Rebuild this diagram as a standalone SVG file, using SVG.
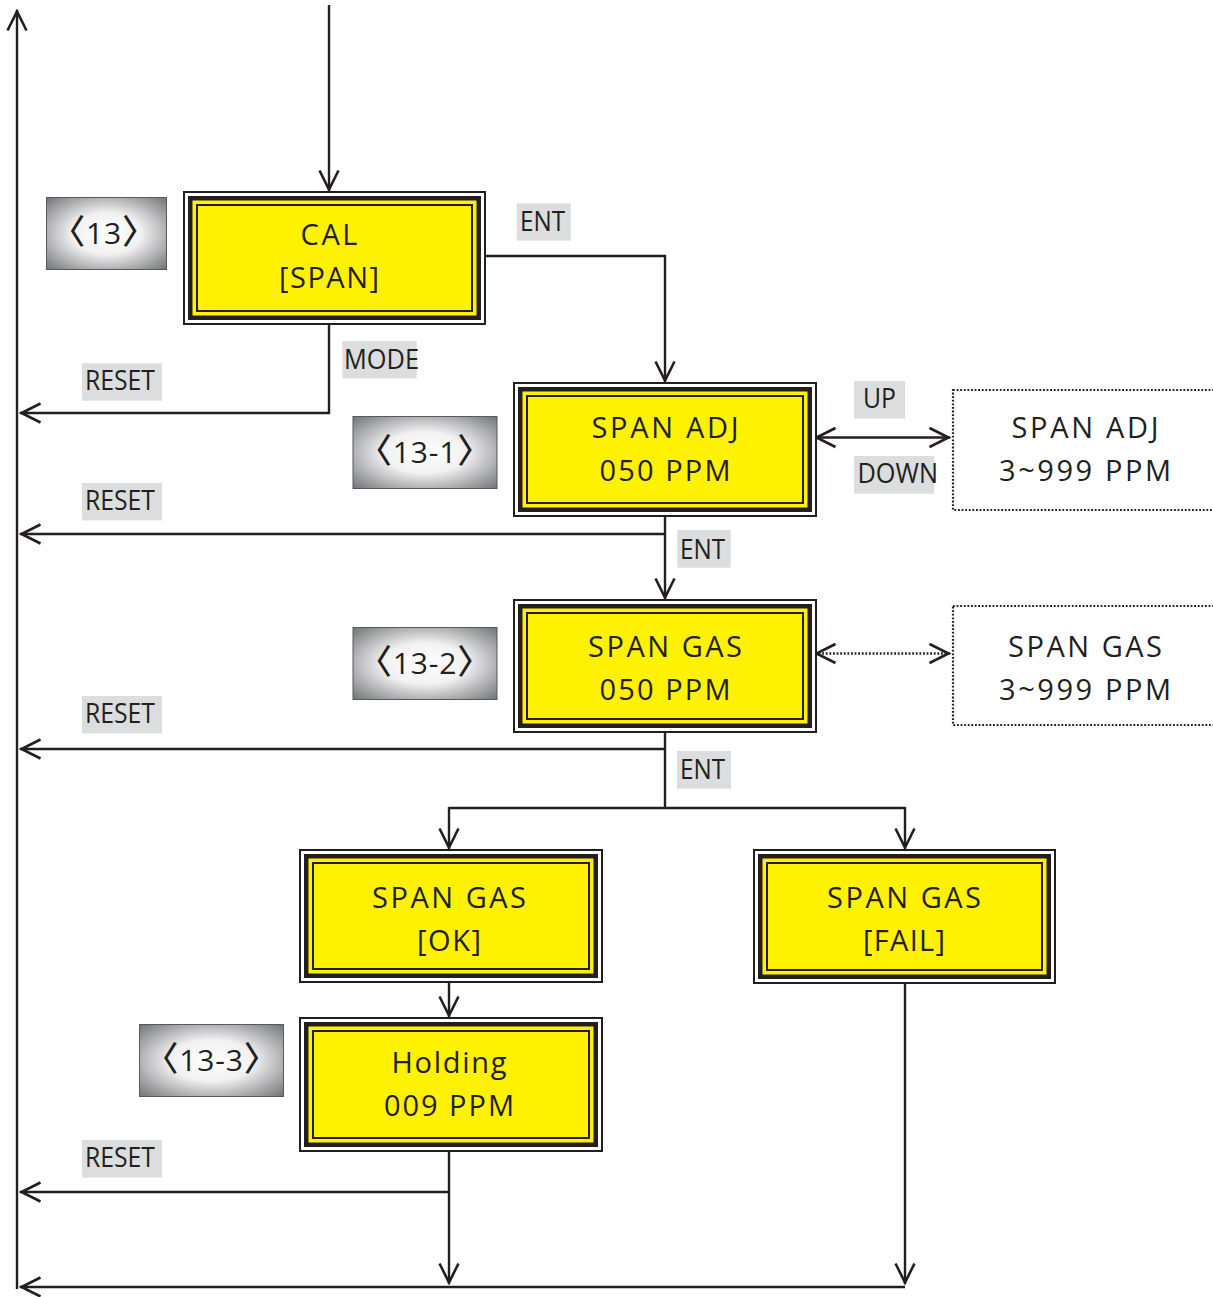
<svg xmlns="http://www.w3.org/2000/svg" width="1213" height="1297" viewBox="0 0 1213 1297">
<style>
.f0{fill:#fff;stroke:#231f20;stroke-width:2}
.f1{fill:#231f20}
.f2{fill:#fff200}
.f3{fill:none;stroke:#231f20;stroke-width:2}
.nt{font-family:"Open Sans","Noto Sans",sans-serif;font-size:29px;font-weight:500;fill:#231f20;text-anchor:middle}
.bt{font-family:"Open Sans","Noto Sans CJK KR",sans-serif;font-size:30px;font-weight:500;fill:#231f20;text-anchor:middle;letter-spacing:0.8px}
.br{font-family:"Noto Sans CJK KR",sans-serif;font-size:34px;font-weight:500}
.lb{fill:#dcdddf}
.lt{font-family:"Open Sans","Noto Sans",sans-serif;font-size:27px;font-weight:500;fill:#231f20}
.bd{fill:url(#bg);stroke:#58595b;stroke-width:1}
.dot{fill:#fff;stroke:#231f20;stroke-width:2.2;stroke-dasharray:1.8 1.8}
.ln{fill:none;stroke:#231f20;stroke-width:2.4}
.ar{marker-end:url(#ah)}
.ar2{marker-start:url(#ah);marker-end:url(#ah)}
.dl{stroke-dasharray:1.8 1.8}
</style>
<defs>
<radialGradient id="bg" cx="0.5" cy="0.5" r="0.72">
<stop offset="0" stop-color="#ffffff"/>
<stop offset="0.4" stop-color="#f1f1f2"/>
<stop offset="1" stop-color="#6d6e71"/>
</radialGradient>
<marker id="ah" markerUnits="userSpaceOnUse" orient="auto-start-reverse" markerWidth="24" markerHeight="24" viewBox="-22 -12 24 24" refX="0" refY="0" overflow="visible">
<path d="M-20.5,-9.5 L-1.5,0 L-20.5,9.5" fill="none" stroke="#231f20" stroke-width="2.6"/>
</marker>
</defs>
<rect width="1213" height="1297" fill="#fff"/>

<g id="connectors">
<path class="ln ar" d="M17,1289 L17,10"/>
<path class="ln ar" d="M329,5 L329,191"/>
<path class="ln ar" d="M486,256 L665,256 L665,382"/>
<path class="ln ar" d="M329,325 L329,413 L20,413"/>
<path class="ln ar" d="M665,517 L665,599"/>
<path class="ln ar" d="M665,534 L20,534"/>
<path class="ln ar2" d="M815,437.5 L950,437.5"/>
<path class="ln dl ar2" d="M815,653.5 L950,653.5"/>
<path class="ln" d="M665,733 L665,808"/>
<path class="ln ar" d="M665,749 L20,749"/>
<path class="ln" d="M449,808 L905,808"/>
<path class="ln ar" d="M449,807 L449,849"/>
<path class="ln ar" d="M905,807 L905,849"/>
<path class="ln ar" d="M449,983 L449,1017"/>
<path class="ln ar" d="M449,1152 L449,1284"/>
<path class="ln ar" d="M449,1192 L20,1192"/>
<path class="ln ar" d="M905,984 L905,1284"/>
<path class="ln ar" d="M905,1287 L20,1287"/>
</g>

<g id="node-cal">
<rect class="f0" x="184" y="192" width="301" height="132"/>
<rect class="f1" x="188" y="196" width="293" height="124"/>
<rect class="f2" x="192.5" y="200.5" width="284" height="115"/>
<rect class="f3" x="197" y="205" width="275" height="106"/>
<text class="nt" x="329" y="245" textLength="57">CAL</text>
<text class="nt" x="329" y="288" textLength="100">[SPAN]</text>
</g>

<g id="node-span-adj">
<rect class="f0" x="514" y="383" width="302" height="133"/>
<rect class="f1" x="518" y="387" width="294" height="125"/>
<rect class="f2" x="522.5" y="391.5" width="285" height="116"/>
<rect class="f3" x="527" y="396" width="276" height="107"/>
<text class="nt" x="665" y="438" textLength="147">SPAN ADJ</text>
<text class="nt" x="665" y="481" textLength="131">050 PPM</text>
</g>

<g id="node-span-gas">
<rect class="f0" x="514" y="600" width="302" height="132"/>
<rect class="f1" x="518" y="604" width="294" height="124"/>
<rect class="f2" x="522.5" y="608.5" width="285" height="115"/>
<rect class="f3" x="527" y="613" width="276" height="106"/>
<text class="nt" x="665" y="657" textLength="154">SPAN GAS</text>
<text class="nt" x="665" y="700" textLength="131">050 PPM</text>
</g>

<g id="node-gas-ok">
<rect class="f0" x="300" y="850" width="302" height="132"/>
<rect class="f1" x="304" y="854" width="294" height="124"/>
<rect class="f2" x="308.5" y="858.5" width="285" height="115"/>
<rect class="f3" x="313" y="863" width="276" height="106"/>
<text class="nt" x="449" y="908" textLength="154">SPAN GAS</text>
<text class="nt" x="449" y="951" textLength="64">[OK]</text>
</g>

<g id="node-holding">
<rect class="f0" x="300" y="1018" width="302" height="133"/>
<rect class="f1" x="304" y="1022" width="294" height="125"/>
<rect class="f2" x="308.5" y="1026.5" width="285" height="116"/>
<rect class="f3" x="313" y="1031" width="276" height="107"/>
<text class="nt" x="449" y="1073" textLength="115">Holding</text>
<text class="nt" x="449" y="1116" textLength="130">009 PPM</text>
</g>

<g id="node-gas-fail">
<rect class="f0" x="754" y="850" width="301" height="133"/>
<rect class="f1" x="758" y="854" width="293" height="125"/>
<rect class="f2" x="762.5" y="858.5" width="284" height="116"/>
<rect class="f3" x="767" y="863" width="275" height="107"/>
<text class="nt" x="904" y="908" textLength="154">SPAN GAS</text>
<text class="nt" x="904" y="951" textLength="82">[FAIL]</text>
</g>

<g id="node-adj-range">
<rect class="dot" x="953" y="390" width="262" height="120"/>
<text class="nt" x="1085" y="438" textLength="147">SPAN ADJ</text>
<text class="nt" x="1085" y="481" textLength="172">3~999 PPM</text>
</g>

<g id="node-gas-range">
<rect class="dot" x="953" y="606" width="262" height="119"/>
<text class="nt" x="1085" y="657" textLength="154">SPAN GAS</text>
<text class="nt" x="1085" y="700" textLength="172">3~999 PPM</text>
</g>

<g id="badge-13">
<rect class="bd" x="46.5" y="197.5" width="120" height="72"/>
<text class="bt" x="104" y="244"><tspan class="br">〈</tspan>13<tspan class="br">〉</tspan></text>
</g>
<g id="badge-13-1">
<rect class="bd" x="353" y="416.5" width="144" height="72"/>
<text class="bt" x="425" y="462.7"><tspan class="br">〈</tspan>13-1<tspan class="br">〉</tspan></text>
</g>
<g id="badge-13-2">
<rect class="bd" x="353" y="627.5" width="144" height="72"/>
<text class="bt" x="425" y="673.5"><tspan class="br">〈</tspan>13-2<tspan class="br">〉</tspan></text>
</g>
<g id="badge-13-3">
<rect class="bd" x="139.5" y="1024.5" width="144" height="72"/>
<text class="bt" x="211.5" y="1070.5"><tspan class="br">〈</tspan>13-3<tspan class="br">〉</tspan></text>
</g>

<g id="labels">
<rect class="lb" x="516.7" y="203.3" width="54" height="37.4"/>
<text class="lt" x="520" y="231" textLength="45" lengthAdjust="spacingAndGlyphs">ENT</text>
<rect class="lb" x="342.3" y="341" width="74.4" height="37.3"/>
<text class="lt" x="344" y="369.3" textLength="75" lengthAdjust="spacingAndGlyphs">MODE</text>
<rect class="lb" x="82" y="363.3" width="80" height="37.4"/>
<text class="lt" x="85" y="390" textLength="70" lengthAdjust="spacingAndGlyphs">RESET</text>
<rect class="lb" x="854" y="381" width="51" height="37.7"/>
<text class="lt" x="863" y="408.3" textLength="33" lengthAdjust="spacingAndGlyphs">UP</text>
<rect class="lb" x="854" y="456" width="80" height="37.7"/>
<text class="lt" x="857.5" y="482.7" textLength="80.5" lengthAdjust="spacingAndGlyphs">DOWN</text>
<rect class="lb" x="82" y="483" width="80" height="37.4"/>
<text class="lt" x="85" y="510" textLength="70" lengthAdjust="spacingAndGlyphs">RESET</text>
<rect class="lb" x="677.3" y="530" width="53.4" height="37.7"/>
<text class="lt" x="680" y="559" textLength="45" lengthAdjust="spacingAndGlyphs">ENT</text>
<rect class="lb" x="82" y="696" width="80" height="37.4"/>
<text class="lt" x="85" y="723" textLength="70" lengthAdjust="spacingAndGlyphs">RESET</text>
<rect class="lb" x="677" y="751" width="54" height="37.7"/>
<text class="lt" x="680" y="779.3" textLength="45" lengthAdjust="spacingAndGlyphs">ENT</text>
<rect class="lb" x="82" y="1140" width="80" height="37.7"/>
<text class="lt" x="85" y="1166.7" textLength="70" lengthAdjust="spacingAndGlyphs">RESET</text>
</g>
</svg>
